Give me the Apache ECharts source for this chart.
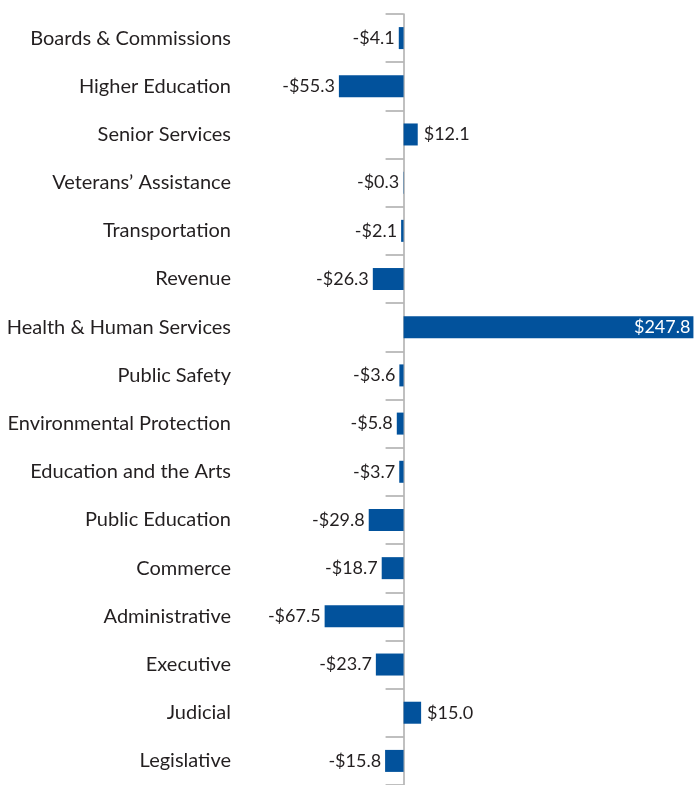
<!DOCTYPE html>
<html>
<head>
<meta charset="utf-8">
<script src="https://cdn.jsdelivr.net/npm/echarts@6/dist/echarts.min.js"></script>
<style>
  html, body { margin: 0; padding: 0; background: #fff; }
  #chart { width: 698px; height: 785px; }
</style>
</head>
<body>
<div id="chart"></div>
<script>
// 部门名称（自上而下）
const categories = [
  'Boards & Commissions',
  'Higher Education',
  'Senior Services',
  'Veterans\u2019 Assistance',
  'Transportation',
  'Revenue',
  'Health & Human Services',
  'Public Safety',
  'Environmental Protection',
  'Education and the Arts',
  'Public Education',
  'Commerce',
  'Administrative',
  'Executive',
  'Judicial',
  'Legislative',
]
// 变化金额（百万美元）
const values = [-4.1, -55.3, 12.1, -0.3, -2.1, -26.3, 247.8, -3.6, -5.8, -3.7, -29.8, -18.7, -67.5, -23.7, 15.0, -15.8]

const barColor = '#02529c'
const fontFamily = 'Lato, "Open Sans", sans-serif'

const fmt = (v) => (v < 0 ? '-$' : '$') + Math.abs(v).toFixed(1)

const chart = echarts.init(document.getElementById('chart'))

const seriesData = values.map((v) => {
  let label
  if (v > 200) {
    // 长条：标签放在条内右侧
    label = { position: 'insideRight', color: '#fff', distance: 3 }
  } else if (v < 0) {
    label = { position: 'left', distance: 4 }
  } else {
    label = { position: 'right', distance: 6 }
  }
  return { value: v, label }
})

const option = {
  animation: false,
  grid: {
    left: 310,
    width: 386,
    top: 14,
    height: 773,
    containLabel: false,
  },
  xAxis: {
    type: 'value',
    min: -80,
    max: 250,
    show: false,
  },
  yAxis: [
    {
      // 左侧类目文字
      type: 'category',
      data: categories,
      inverse: true,
      position: 'left',
      axisLine: { show: false, onZero: false },
      axisTick: { show: false },
      axisLabel: {
        margin: 79,
        color: '#231f20',
        fontSize: 20,
        fontFamily,
        padding: [5, 0, 0, 0],
      },
    },
    {
      // 零线与刻度
      type: 'category',
      data: categories,
      inverse: true,
      position: 'left',
      axisLine: { show: true, onZero: true, lineStyle: { color: '#ababab', width: 1.5 } },
      axisTick: { show: true, length: 18, lineStyle: { color: '#ababab', width: 1.5 } },
      axisLabel: { show: false },
    },
  ],
  series: [
    {
      type: 'bar',
      yAxisIndex: 1,
      data: seriesData,
      barWidth: 22,
      itemStyle: { color: barColor },
      label: {
        show: true,
        formatter: (p) => fmt(p.value),
        color: '#231f20',
        fontSize: 18,
        fontFamily,
      },
    },
  ],
}

chart.setOption(option)
</script>
</body>
</html>
